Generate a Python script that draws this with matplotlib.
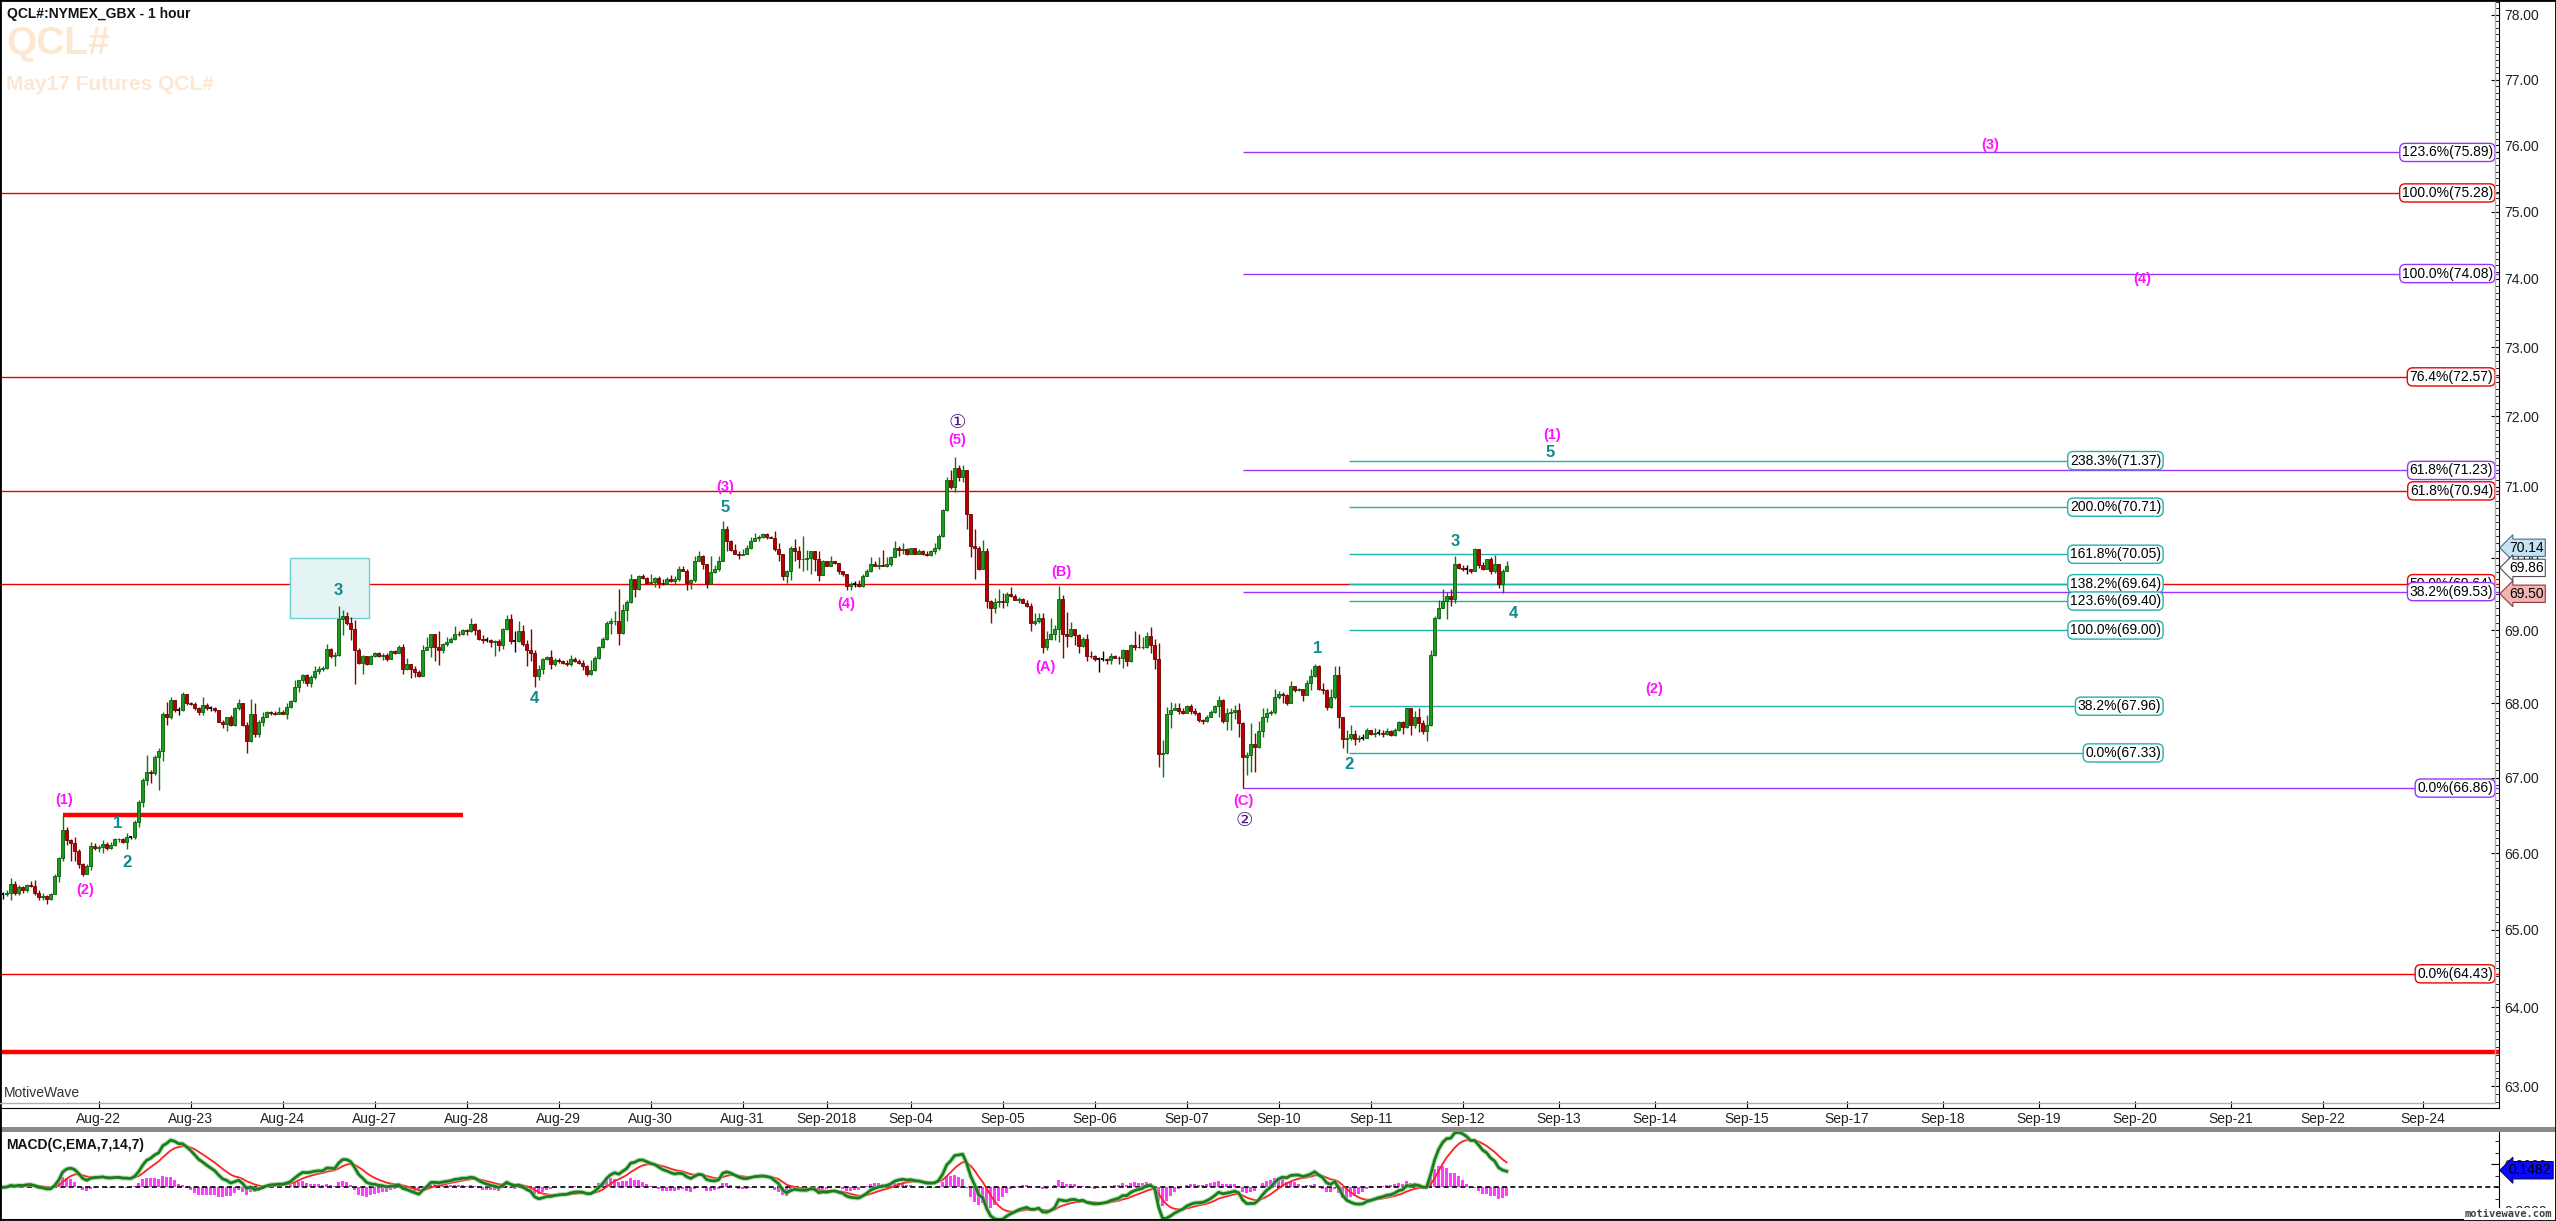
import numpy as np
import pandas as pd

from matplotlib import pyplot as plt
from matplotlib import transforms
from matplotlib.lines import Line2D
from matplotlib.patches import Rectangle
from matplotlib.ticker import FixedLocator, FixedFormatter, NullFormatter


# QCL# 1 hour bars (one value per bar)
closes = [
    65.46, 65.48, 65.59, 65.47, 65.55, 65.51, 65.58, 65.57, 65.48, 65.43,
    65.44, 65.40, 65.46, 65.70, 65.93, 66.30, 66.17, 66.13, 66.03, 65.85,
    65.72, 65.83, 66.09, 66.06, 66.08, 66.12, 66.06, 66.11, 66.18, 66.19,
    66.15, 66.21, 66.21, 66.41, 66.68, 66.97, 67.08, 67.06, 67.28, 67.36,
    67.86, 67.81, 68.04, 67.91, 67.91, 68.12, 68.00, 67.99, 67.93, 67.88,
    67.97, 67.93, 67.93, 67.91, 67.75, 67.72, 67.81, 67.70, 67.94, 68.00,
    67.70, 67.49, 67.85, 67.58, 67.75, 67.82, 67.88, 67.87, 67.85, 67.88,
    67.86, 67.95, 68.03, 68.22, 68.31, 68.38, 68.27, 68.36, 68.44, 68.47,
    68.48, 68.74, 68.64, 68.66, 69.15, 69.19, 69.09, 69.01, 68.73, 68.55,
    68.64, 68.53, 68.64, 68.68, 68.64, 68.66, 68.60, 68.71, 68.69, 68.77,
    68.47, 68.53, 68.47, 68.43, 68.37, 68.73, 68.77, 68.94, 68.76, 68.72,
    68.81, 68.84, 68.87, 68.95, 68.94, 69.00, 68.98, 69.08, 69.00, 68.87,
    68.86, 68.86, 68.84, 68.85, 68.79, 69.01, 69.15, 68.85, 68.85, 68.99,
    68.81, 68.72, 68.69, 68.37, 68.46, 68.60, 68.63, 68.54, 68.59, 68.57,
    68.55, 68.53, 68.60, 68.58, 68.55, 68.50, 68.40, 68.45, 68.61, 68.76,
    68.87, 69.10, 69.12, 69.13, 68.96, 69.28, 69.38, 69.70, 69.56, 69.74,
    69.72, 69.65, 69.67, 69.72, 69.65, 69.64, 69.70, 69.68, 69.70, 69.85,
    69.82, 69.65, 69.69, 69.96, 70.03, 69.91, 69.64, 69.80, 69.84, 69.96,
    70.41, 70.23, 70.11, 70.06, 70.04, 70.06, 70.13, 70.24, 70.28, 70.29,
    70.33, 70.29, 70.28, 70.12, 70.05, 69.75, 69.82, 70.13, 70.10, 69.98,
    69.99, 70.00, 70.09, 69.98, 69.76, 69.96, 69.89, 69.96, 69.93, 69.81,
    69.78, 69.61, 69.63, 69.63, 69.61, 69.75, 69.82, 69.92, 69.89, 69.90,
    69.89, 69.91, 70.01, 70.13, 70.11, 70.12, 70.05, 70.13, 70.06, 70.10,
    70.05, 70.04, 70.09, 70.13, 70.31, 70.67, 71.09, 71.00, 71.27, 71.13,
    71.24, 70.61, 70.16, 70.14, 69.84, 70.10, 69.40, 69.31, 69.38, 69.40,
    69.38, 69.50, 69.47, 69.42, 69.43, 69.37, 69.33, 69.09, 69.13, 69.16,
    68.77, 68.87, 68.95, 69.02, 69.43, 68.95, 68.92, 69.01, 68.93, 68.78,
    68.87, 68.65, 68.64, 68.60, 68.60, 68.60, 68.59, 68.64, 68.62, 68.61,
    68.73, 68.57, 68.79, 68.77, 68.76, 68.77, 68.92, 68.80, 68.60, 67.31,
    67.33, 67.85, 67.91, 67.94, 67.90, 67.87, 67.96, 67.90, 67.87, 67.78,
    67.76, 67.82, 67.88, 67.96, 68.05, 67.76, 67.87, 67.88, 67.91, 67.73,
    67.27, 67.30, 67.45, 67.41, 67.62, 67.82, 67.87, 67.88, 68.09, 68.13,
    68.11, 68.00, 68.23, 68.18, 68.19, 68.11, 68.28, 68.37, 68.51, 68.20,
    68.18, 67.95, 68.09, 68.39, 67.82, 67.52, 67.53, 67.58, 67.52, 67.53,
    67.53, 67.64, 67.58, 67.60, 67.60, 67.58, 67.62, 67.57, 67.64, 67.74,
    67.68, 67.93, 67.70, 67.82, 67.73, 67.63, 67.70, 68.66, 69.16, 69.31,
    69.40, 69.47, 69.43, 69.92, 69.86, 69.85, 69.85, 69.81, 70.12, 69.90,
    69.85, 69.98, 69.81, 69.91, 69.63, 69.82, 69.89,
]
highs = [
    65.49, 65.51, 65.67, 65.63, 65.58, 65.57, 65.60, 65.63, 65.64, 65.51,
    65.48, 65.45, 65.47, 65.72, 65.95, 66.50, 66.35, 66.19, 66.21, 66.05,
    65.87, 65.85, 66.15, 66.13, 66.11, 66.17, 66.15, 66.14, 66.20, 66.20,
    66.20, 66.26, 66.23, 66.43, 66.70, 66.99, 67.30, 67.10, 67.30, 67.39,
    67.88, 68.02, 68.09, 68.04, 67.95, 68.15, 68.09, 68.02, 68.02, 67.95,
    68.08, 68.00, 67.96, 67.95, 67.91, 67.78, 67.82, 67.84, 67.95, 68.06,
    68.00, 67.75, 68.06, 68.00, 67.77, 67.88, 67.90, 67.90, 67.90, 67.95,
    67.91, 68.00, 68.04, 68.31, 68.32, 68.40, 68.40, 68.38, 68.50, 68.50,
    68.50, 68.81, 68.75, 68.70, 69.33, 69.27, 69.25, 69.18, 69.14, 68.75,
    68.66, 68.64, 68.66, 68.70, 68.70, 68.68, 68.68, 68.73, 68.73, 68.79,
    68.81, 68.61, 68.54, 68.50, 68.45, 68.79, 68.91, 68.95, 68.95, 68.99,
    68.82, 68.90, 68.90, 69.06, 68.98, 69.02, 69.01, 69.16, 69.10, 69.02,
    68.93, 68.91, 68.88, 68.86, 68.87, 69.03, 69.21, 69.22, 68.98, 69.13,
    69.07, 68.86, 69.01, 68.73, 68.52, 68.61, 68.64, 68.73, 68.61, 68.61,
    68.59, 68.59, 68.66, 68.63, 68.60, 68.59, 68.52, 68.59, 68.64, 68.78,
    68.91, 69.12, 69.16, 69.26, 69.56, 69.36, 69.42, 69.77, 69.71, 69.76,
    69.77, 69.73, 69.78, 69.73, 69.74, 69.70, 69.73, 69.76, 69.74, 69.88,
    69.89, 69.85, 69.70, 70.03, 70.10, 70.04, 69.92, 70.03, 69.90, 70.03,
    70.52, 70.45, 70.25, 70.19, 70.09, 70.12, 70.18, 70.29, 70.34, 70.32,
    70.35, 70.35, 70.31, 70.38, 70.20, 70.06, 69.83, 70.17, 70.26, 70.17,
    70.31, 70.11, 70.10, 70.09, 70.09, 69.97, 69.96, 70.02, 69.96, 69.92,
    69.82, 69.77, 69.67, 69.68, 69.69, 69.77, 69.84, 70.01, 69.96, 70.01,
    70.11, 70.01, 70.02, 70.23, 70.17, 70.20, 70.14, 70.14, 70.14, 70.12,
    70.11, 70.09, 70.11, 70.20, 70.33, 70.68, 71.13, 71.24, 71.42, 71.31,
    71.31, 71.24, 70.62, 70.40, 70.17, 70.25, 70.13, 69.41, 69.44, 69.56,
    69.51, 69.53, 69.59, 69.50, 69.46, 69.44, 69.41, 69.37, 69.23, 69.24,
    69.23, 68.99, 69.16, 69.07, 69.61, 69.48, 69.25, 69.11, 69.02, 68.94,
    68.91, 68.94, 68.71, 68.66, 68.63, 68.71, 68.61, 68.68, 68.66, 68.64,
    68.74, 68.73, 68.81, 68.98, 68.95, 68.90, 68.97, 69.04, 68.88, 68.82,
    67.50, 67.95, 68.02, 68.00, 68.00, 67.93, 67.97, 67.99, 67.94, 67.88,
    67.79, 67.84, 67.91, 67.97, 68.10, 68.06, 67.94, 67.94, 67.98, 68.00,
    67.75, 67.34, 67.73, 67.60, 67.76, 67.94, 67.93, 67.91, 68.19, 68.17,
    68.15, 68.13, 68.30, 68.24, 68.21, 68.20, 68.32, 68.47, 68.54, 68.52,
    68.27, 68.19, 68.19, 68.51, 68.51, 67.82, 67.64, 67.70, 67.64, 67.57,
    67.59, 67.66, 67.64, 67.67, 67.65, 67.64, 67.66, 67.64, 67.66, 67.76,
    67.76, 67.94, 67.94, 67.89, 67.93, 67.77, 67.84, 68.73, 69.19, 69.42,
    69.56, 69.53, 69.56, 70.03, 69.93, 69.90, 69.90, 69.85, 70.14, 70.12,
    69.94, 69.99, 70.01, 70.04, 69.92, 69.84, 69.96,
]
lows = [
    65.40, 65.44, 65.39, 65.45, 65.45, 65.47, 65.49, 65.55, 65.45, 65.38,
    65.39, 65.33, 65.38, 65.46, 65.62, 65.89, 66.11, 65.89, 65.90, 65.80,
    65.70, 65.72, 65.78, 66.04, 66.02, 66.00, 66.04, 66.05, 66.09, 66.15,
    66.13, 66.05, 66.19, 66.19, 66.34, 66.61, 66.90, 66.93, 67.04, 66.84,
    67.22, 67.70, 67.79, 67.88, 67.84, 67.90, 67.97, 67.97, 67.91, 67.84,
    67.84, 67.91, 67.90, 67.88, 67.74, 67.66, 67.63, 67.69, 67.69, 67.91,
    67.69, 67.33, 67.48, 67.55, 67.55, 67.69, 67.81, 67.84, 67.84, 67.87,
    67.85, 67.79, 67.94, 68.02, 68.15, 68.27, 68.24, 68.22, 68.33, 68.40,
    68.44, 68.46, 68.61, 68.50, 68.64, 68.93, 69.07, 68.86, 68.26, 68.53,
    68.40, 68.52, 68.58, 68.63, 68.63, 68.59, 68.57, 68.60, 68.67, 68.68,
    68.40, 68.45, 68.34, 68.36, 68.36, 68.37, 68.72, 68.63, 68.57, 68.52,
    68.68, 68.78, 68.82, 68.86, 68.92, 68.93, 68.93, 68.97, 68.93, 68.86,
    68.82, 68.84, 68.77, 68.65, 68.71, 68.74, 69.00, 68.81, 68.70, 68.84,
    68.78, 68.50, 68.57, 68.22, 68.31, 68.40, 68.59, 68.47, 68.50, 68.55,
    68.54, 68.50, 68.51, 68.56, 68.54, 68.45, 68.37, 68.38, 68.44, 68.60,
    68.75, 68.86, 68.94, 69.07, 68.80, 68.94, 69.12, 69.37, 69.46, 69.55,
    69.70, 69.64, 69.63, 69.60, 69.58, 69.62, 69.64, 69.67, 69.62, 69.68,
    69.81, 69.55, 69.57, 69.67, 69.95, 69.85, 69.58, 69.63, 69.79, 69.82,
    69.95, 70.09, 70.09, 70.05, 69.99, 70.04, 70.05, 70.12, 70.23, 70.24,
    70.27, 70.26, 70.27, 70.09, 69.95, 69.69, 69.65, 69.69, 69.95, 69.86,
    69.82, 69.83, 69.78, 69.82, 69.68, 69.76, 69.88, 69.91, 69.92, 69.77,
    69.74, 69.55, 69.55, 69.60, 69.60, 69.60, 69.74, 69.80, 69.88, 69.85,
    69.88, 69.87, 69.89, 70.01, 70.02, 70.06, 70.04, 70.05, 70.05, 70.05,
    70.04, 70.03, 70.03, 70.06, 70.11, 70.29, 70.65, 70.96, 70.92, 71.08,
    71.06, 70.41, 70.01, 69.70, 69.83, 69.84, 69.30, 69.09, 69.24, 69.32,
    69.31, 69.33, 69.46, 69.41, 69.37, 69.37, 69.32, 68.98, 69.07, 69.10,
    68.68, 68.73, 68.86, 68.86, 68.84, 68.61, 68.76, 68.91, 68.79, 68.69,
    68.77, 68.57, 68.61, 68.57, 68.42, 68.57, 68.53, 68.54, 68.61, 68.53,
    68.48, 68.51, 68.56, 68.73, 68.75, 68.74, 68.75, 68.68, 68.47, 67.14,
    67.01, 67.32, 67.66, 67.91, 67.85, 67.86, 67.88, 67.85, 67.84, 67.74,
    67.72, 67.74, 67.81, 67.87, 67.82, 67.73, 67.64, 67.64, 67.79, 67.54,
    66.86, 67.04, 67.08, 67.07, 67.40, 67.55, 67.75, 67.84, 67.85, 68.06,
    68.00, 67.97, 68.00, 68.15, 68.17, 68.03, 68.11, 68.18, 68.36, 68.18,
    68.13, 67.91, 67.94, 68.06, 67.67, 67.39, 67.33, 67.51, 67.44, 67.48,
    67.51, 67.53, 67.57, 67.55, 67.57, 67.55, 67.57, 67.56, 67.56, 67.63,
    67.59, 67.67, 67.57, 67.67, 67.61, 67.59, 67.49, 67.69, 68.64, 69.15,
    69.30, 69.15, 69.33, 69.37, 69.85, 69.82, 69.77, 69.79, 69.81, 69.86,
    69.83, 69.85, 69.78, 69.79, 69.58, 69.51, 69.81,
]

# date axis (bar index where each day starts)
day_labels = ['Aug-22', 'Aug-23', 'Aug-24', 'Aug-27', 'Aug-28', 'Aug-29', 'Aug-30',
              'Aug-31', 'Sep-2018', 'Sep-04', 'Sep-05', 'Sep-06', 'Sep-07', 'Sep-10',
              'Sep-11', 'Sep-12', 'Sep-13', 'Sep-14', 'Sep-15', 'Sep-17', 'Sep-18',
              'Sep-19', 'Sep-20', 'Sep-21', 'Sep-22', 'Sep-24']
day_bars = [24, 47, 70, 93, 116, 139, 162, 185, 206, 227, 250, 273, 296, 319,
            342, 365, 389, 413, 436, 461, 485, 509, 533, 557, 580, 605]
price_ticks = list(range(63, 79))

# fibonacci levels
red_levels = [75.28, 72.57, 70.94, 69.64, 64.43]
red_pcts = ['100.0%', '76.4%', '61.8%', '50.0%', '0.0%']
violet_levels = [75.89, 74.08, 71.23, 69.53, 66.86]
violet_pcts = ['123.6%', '100.0%', '61.8%', '38.2%', '0.0%']
teal_levels = [71.37, 70.71, 70.05, 69.64, 69.40, 69.00, 67.96, 67.33]
teal_pcts = ['238.3%', '200.0%', '161.8%', '138.2%', '123.6%', '100.0%', '38.2%', '0.0%']
violet_start = 310
teal_start, teal_end = 336.6, 539.6

# thick red support lines: price, first bar, last bar
thick_lines = [(66.50, 15, 115), (63.44, None, None)]

# price tags on the axis: text, price, face, edge
price_tags = [('70.14', 70.14, '#c6e3f3', '#4a6a82'),
              ('69.86', 69.86, '#ffffff', '#505050'),
              ('69.50', 69.50, '#f3b4b4', '#8a3c3c')]
macd_tag = 0.1482

# elliott wave labels: text, bar, price, style
waves = [
    ('(1)', 15.3, 66.70, 'm'), ('(2)', 20.6, 65.52, 'm'),
    ('1', 28.8, 66.39, 't'), ('2', 31.1, 65.87, 't'),
    ('3', 83.8, 69.54, 't'), ('4', 132.8, 68.06, 't'),
    ('5', 180.6, 70.71, 't'), ('(3)', 180.6, 70.99, 'm'),
    ('(4)', 210.8, 69.36, 'm'), ('(5)', 238.6, 71.66, 'm'),
    ('\u2460', 238.6, 71.92, 'c'), ('(B)', 264.6, 69.80, 'm'),
    ('(A)', 260.6, 68.49, 'm'), ('(C)', 310.3, 66.69, 'm'),
    ('\u2461', 310.3, 66.43, 'c'), ('1', 328.8, 68.74, 't'),
    ('2', 336.6, 67.18, 't'), ('3', 363.1, 70.23, 't'),
    ('4', 377.8, 69.23, 't'), ('(1)', 387.3, 71.73, 'm'),
    ('5', 386.8, 71.48, 't'), ('(2)', 412.8, 68.19, 'm'),
    ('(3)', 496.8, 76.00, 'm'), ('(4)', 534.8, 74.00, 'm'),
]
wave3_box = (71.8, 91.6, 69.16, 70.00)

W, H = 2556, 1221
plt.rcParams['font.family'] = ['Liberation Sans', 'DejaVu Sans']

RED = '#ee0000'
VIOLET = '#9a33ff'
TEAL = '#20b2aa'
styles = {
    'm': dict(color='#ff14ff', fontsize=10.5, fontweight='bold'),
    't': dict(color='#138a8c', fontsize=12, fontweight='bold'),
    'c': dict(color='#4b1585', fontsize=14, family=['DejaVu Sans']),
}


def fx(px):
    return px / W


def fy(py):
    return 1 - py / H


c = np.array(closes)
hi = np.array(highs)
lo = np.array(lows)
o = np.r_[c[0], c[:-1]]
hi = np.maximum(hi, np.maximum(o, c))
lo = np.minimum(lo, np.minimum(o, c))
x = np.arange(len(c))

fig = plt.figure(figsize=(W / 100, H / 100), dpi=100)
xlim = (-0.175, 624.1)

# ---- main price panel
ax = fig.add_axes([fx(2), fy(1108), fx(2497), 1106 / H])
ax.set_yscale('log')
ax.set_ylim(62.73, 78.20)
ax.set_xlim(*xlim)

for level, pct in zip(red_levels, red_pcts):
    ax.axhline(level, color=RED, lw=1.0, zorder=1)
    ax.text(622.6, level, f'{pct}({level:.2f})', ha='right', va='center', fontsize=10,
            zorder=6, bbox=dict(boxstyle='round,pad=0.15,rounding_size=0.4',
                                fc='white', ec=RED, lw=1.0))
for level, pct in zip(violet_levels, violet_pcts):
    ax.hlines(level, violet_start, xlim[1], color=VIOLET, lw=1.0, zorder=1)
    ax.text(622.6, level, f'{pct}({level:.2f})', ha='right', va='center', fontsize=10,
            zorder=7, bbox=dict(boxstyle='round,pad=0.15,rounding_size=0.4',
                                fc='white', ec=VIOLET, lw=1.0))
for level, pct in zip(teal_levels, teal_pcts):
    ax.hlines(level, teal_start, teal_end, color=TEAL, lw=1.0, zorder=1)
    ax.text(teal_end, level, f'{pct}({level:.2f})', ha='right', va='center', fontsize=10,
            zorder=6, bbox=dict(boxstyle='round,pad=0.15,rounding_size=0.4',
                                fc='white', ec=TEAL, lw=1.0))

for level, x0, x1 in thick_lines:
    x0 = xlim[0] if x0 is None else x0
    x1 = xlim[1] if x1 is None else x1
    ax.hlines(level, x0, x1, color='#ff0000', lw=3.2, zorder=2)

bx0, bx1, by0, by1 = wave3_box
ax.add_patch(Rectangle((bx0, by0), bx1 - bx0, by1 - by0, fc='#e4f4f4', ec='#6fcfcf',
                       lw=1.0, zorder=1))

# candles
up = c > o + 1e-9
down = c < o - 1e-9
flat = ~(up | down)
wick_col = np.where(up, '#0b7a0b', np.where(down, '#8a0000', '#000000'))
ax.vlines(x, lo, hi, colors=wick_col, lw=1.0, zorder=3)
ax.bar(x[up], (c - o)[up], bottom=o[up], width=0.7, color='#1c9c1c',
       edgecolor='#0a5c0a', lw=0.6, zorder=4)
ax.bar(x[down], (o - c)[down], bottom=c[down], width=0.7, color='#b80000',
       edgecolor='#6a0000', lw=0.6, zorder=4)
ax.hlines(c[flat], x[flat] - 0.4, x[flat] + 0.4, color='black', lw=1.3, zorder=4)

for text, bar, price, kind in waves:
    ax.text(bar, price, text, ha='center', va='center', zorder=8, **styles[kind])

for side in ['left', 'top']:
    ax.spines[side].set_visible(False)
ax.spines['right'].set_color('black')
ax.spines['bottom'].set_color('black')

ax.yaxis.set_major_locator(FixedLocator(price_ticks))
ax.yaxis.set_major_formatter(FixedFormatter([f'{t:.2f}' for t in price_ticks]))
minor = [round(v, 1) for v in np.arange(62.8, 78.2, 0.1) if abs(v - round(v)) > 0.05]
ax.yaxis.set_minor_locator(FixedLocator(minor))
ax.yaxis.set_minor_formatter(NullFormatter())
ax.tick_params(axis='y', which='both', direction='in', left=False, right=True,
               labelleft=False, labelright=True, labelsize=10, labelcolor='#222222',
               pad=4)
ax.tick_params(axis='y', which='major', length=6)
ax.tick_params(axis='y', which='minor', length=3)
ax.set_xticks(day_bars)
ax.set_xticklabels(day_labels)
ax.tick_params(axis='x', direction='in', length=5, pad=3, labelsize=10,
               labelcolor='#222222')

tag_tr = transforms.blended_transform_factory(ax.transAxes, ax.transData)
for text, price, fc, ec in price_tags:
    ax.text(1.004, price, text, transform=tag_tr, ha='left', va='center', fontsize=10,
            zorder=9, clip_on=False,
            bbox=dict(boxstyle='larrow,pad=0.12', fc=fc, ec=ec, lw=0.8))

# ---- MACD panel
s = pd.Series(closes)
macd = s.ewm(span=7, adjust=False).mean() - s.ewm(span=14, adjust=False).mean()
signal = macd.ewm(span=7, adjust=False).mean()
hist = macd - signal

ax2 = fig.add_axes([fx(2), fy(1219), fx(2497), 87 / H])
ax2.set_xlim(*xlim)
ax2.set_ylim(-0.275, 0.48)
ax2.bar(x, hist, width=0.8, color='#ff3cff', zorder=2)
ax2.axhline(0, color='black', lw=1.2, ls=(0, (3, 2)), zorder=3)
ax2.plot(x, signal, color='#ff2020', lw=1.3, zorder=4)
ax2.plot(x, macd, color='#8fcf8f', lw=3.6, alpha=0.6, zorder=4)
ax2.plot(x, macd, color='#1b7d1b', lw=2.0, zorder=5)
for side in ['left', 'top']:
    ax2.spines[side].set_visible(False)
ax2.set_xticks([])
ax2.yaxis.set_major_locator(FixedLocator([-0.2, 0.2]))
ax2.yaxis.set_major_formatter(FixedFormatter(['0.2000', '0.2000']))
ax2.yaxis.set_minor_locator(FixedLocator([-0.1, 0.0, 0.1, 0.3, 0.4]))
ax2.tick_params(axis='y', which='both', direction='in', left=False, right=True,
                labelleft=False, labelright=True, labelsize=10, labelcolor='#222222',
                pad=4)
ax2.tick_params(axis='y', which='major', length=6)
ax2.tick_params(axis='y', which='minor', length=3)
tag_tr2 = transforms.blended_transform_factory(ax2.transAxes, ax2.transData)
ax2.text(1.004, macd_tag, f'{macd_tag:.4f}', transform=tag_tr2, ha='left', va='center',
         fontsize=10, zorder=9, clip_on=False,
         bbox=dict(boxstyle='larrow,pad=0.12', fc='#0a0aff', ec='#000080', lw=0.8))

# ---- frame, separators, captions
fig.add_artist(Rectangle((0, fy(1132)), 1, 5 / H, transform=fig.transFigure,
                         fc='#8a8a8a', ec='none'))
fig.add_artist(Line2D([0, fx(2495)], [fy(1103), fy(1103)], transform=fig.transFigure,
                      color='#b0b0b0', lw=1.0))
fig.add_artist(Line2D([fx(2495), fx(2495)], [fy(1103), fy(2)], transform=fig.transFigure,
                      color='#b0b0b0', lw=1.0))
fig.add_artist(Rectangle((0, 0), 1, 1, transform=fig.transFigure, fill=False,
                         ec='black', lw=2.0))

fig.text(fx(7), fy(14), 'QCL#:NYMEX_GBX - 1 hour', fontsize=10, fontweight='bold',
         color='#151515', va='center')
fig.text(fx(6), fy(44), 'QCL#', fontsize=28, fontweight='bold', color='#fde7d1',
         va='center')
fig.text(fx(6), fy(84), 'May17 Futures QCL#', fontsize=15, fontweight='bold',
         color='#fde7d1', va='center')
fig.text(fx(4), fy(1093), 'MotiveWave', fontsize=10, color='#333333', va='center')
fig.text(fx(6), fy(1145), 'MACD(C,EMA,7,14,7)', fontsize=10, fontweight='bold',
         color='#111111', va='center')
fig.text(fx(2552), fy(1214), 'motivewave.com', fontsize=7.5, fontweight='bold',
         family=['DejaVu Sans Mono'], color='#404040', ha='right', va='center',
         bbox=dict(boxstyle='square,pad=0.05', fc='white', ec='none'))

fig.savefig('out.png', dpi=100, facecolor='white')
